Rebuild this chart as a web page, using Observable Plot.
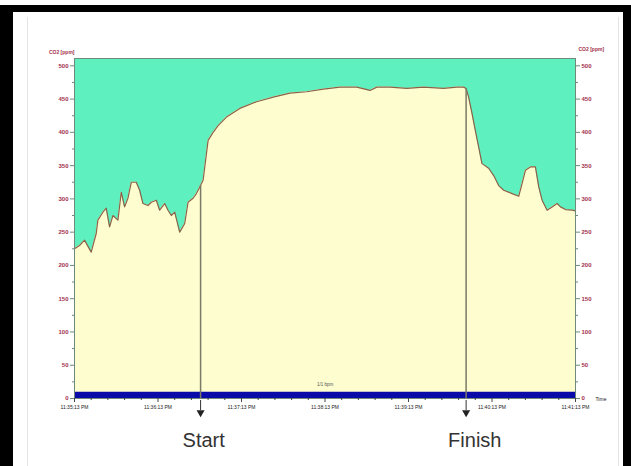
<!DOCTYPE html>
<html>
<head>
<meta charset="utf-8">
<script src="https://cdn.jsdelivr.net/npm/d3@7"></script>
<script src="https://cdn.jsdelivr.net/npm/@observablehq/plot@0.6"></script>
<style>
  html, body { margin: 0; padding: 0; background: #fff; }
  #wrap { position: relative; width: 631px; height: 466px; overflow: hidden; font-family: "Liberation Sans", Arial, sans-serif; }
  #chart { position: absolute; left: 0; top: 0; }
  .bd { position: absolute; background: #000; }
  .fl { position: absolute; background: #e4e4e4; width: 1px; }
</style>
</head>
<body>
<div id="wrap">
  <div id="chart"></div>
  <div class="bd" style="left:0;top:5px;width:631px;height:7px"></div>
  <div class="bd" style="left:0;top:5px;width:13px;height:461px"></div>
  <div class="bd" style="left:623px;top:5px;width:8px;height:461px"></div>
  <div class="fl" style="left:27px;top:17px;height:449px"></div>
  <div class="fl" style="left:618px;top:17px;height:449px"></div>
</div>
<script>
// time in units of x tick intervals (0..6)
const times = [0, 0.06, 0.12, 0.20, 0.26, 0.28, 0.34, 0.38, 0.42, 0.46, 0.52, 0.56, 0.60, 0.64, 0.68, 0.74, 0.78, 0.82, 0.88, 0.92, 0.98, 1.02, 1.08, 1.12, 1.16, 1.20, 1.26, 1.32, 1.36, 1.42, 1.46, 1.50,
  1.54, 1.56, 1.60, 1.66, 1.72, 1.82, 1.98, 2.18, 2.38, 2.58, 2.78, 2.98, 3.18, 3.38, 3.54, 3.62, 3.78, 3.98, 4.18, 4.42, 4.58, 4.66, 4.69,
  4.72, 4.76, 4.80, 4.84, 4.88, 4.96, 5.02, 5.08, 5.14, 5.24, 5.32, 5.36, 5.40, 5.46, 5.52, 5.56, 5.60, 5.66, 5.72, 5.78, 5.82, 5.88, 5.96, 6.0];
const ppm = [225, 230, 238, 220, 248, 268, 280, 286, 258, 275, 268, 310, 288, 301, 325, 325, 313, 293, 290, 295, 298, 283, 293, 283, 275, 280, 250, 263, 295, 301, 308, 318,
  328, 348, 388, 400, 410, 423, 436, 446, 453, 459, 461, 465, 468, 468, 463, 468, 468, 466, 468, 466, 468, 468, 466,
  453, 429, 403, 378, 353, 346, 335, 320, 313, 308, 304, 323, 343, 348, 348, 318, 298, 283, 288, 293, 288, 284, 283, 282];

const baseTimes = [0, 1, 2, 3, 4, 5, 6];
const baseValues = [9.5, 9.5, 9.5, 9.5, 9.5, 9.5, 9.5];

const eventNames = ["Start", "Finish"];
const eventTimes = [1.51, 4.69];
const eventLevels = [320, 466];

const yTicks = [0, 50, 100, 150, 200, 250, 300, 350, 400, 450, 500];
const yMinor = [25, 75, 125, 175, 225, 275, 325, 375, 425, 475];
const xTicks = [0, 1, 2, 3, 4, 5, 6];
const xLabels = ["11:35:13 PM", "11:36:13 PM", "11:37:13 PM", "11:38:13 PM", "11:39:13 PM", "11:40:13 PM", "11:41:13 PM"];
const xMinor = d3.range(0, 6.001, 0.2).filter(v => Math.abs(v - Math.round(v)) > 0.01);

const data = times.map((t, i) => ({t, v: ppm[i]}));
const base = baseTimes.map((t, i) => ({t, v: baseValues[i]}));
const events = eventNames.map((name, i) => ({name, t: eventTimes[i], level: eventLevels[i]}));

const GREEN = "#5ff0bf", CREAM = "#fdfdcf", LINE = "#8b6248", AXIS = "#6f8a7a", MAROON = "#a3304c";

const chart = Plot.plot({
  width: 631,
  height: 466,
  marginLeft: 74,
  marginRight: 56,
  marginTop: 58,
  marginBottom: 68,
  style: {background: "transparent", fontFamily: "Liberation Sans, Arial, sans-serif"},
  x: {domain: [0, 6]},
  y: {domain: [0, 511]},
  marks: [
    Plot.frame({fill: GREEN}),
    Plot.areaY(data, {x: "t", y: "v", fill: CREAM}),
    Plot.lineY(data, {x: "t", y: "v", stroke: LINE, strokeWidth: 1.2}),
    Plot.areaY(base, {x: "t", y: "v", fill: "#0a0aa8"}),
    Plot.ruleX(events, {x: "t", y1: 0, y2: "level", stroke: "#7a7a66", strokeWidth: 1.5}),
    Plot.frame({stroke: AXIS, strokeWidth: 1}),
    Plot.text(["1/1 bpm"], {x: 3, y: 21, text: d => d, fontSize: 4.5, fill: "#555"}),
    Plot.axisY(yTicks, {anchor: "left", tickSize: 4, tickPadding: 2, fontSize: 6, fontWeight: "bold", fill: MAROON, stroke: AXIS, label: null}),
    Plot.axisY(yMinor, {anchor: "left", tickSize: 2, tickFormat: () => "", stroke: AXIS, label: null}),
    Plot.axisY(yTicks, {anchor: "right", tickSize: 4, tickPadding: 2, fontSize: 6, fontWeight: "bold", fill: MAROON, stroke: AXIS, label: null}),
    Plot.axisY(yMinor, {anchor: "right", tickSize: 2, tickFormat: () => "", stroke: AXIS, label: null}),
    Plot.axisX(xTicks, {anchor: "bottom", tickSize: 4, tickPadding: 3, fontSize: 5, fill: "#222", stroke: "#444", tickFormat: i => xLabels[i], label: null}),
    Plot.axisX(xMinor, {anchor: "bottom", tickSize: 2, stroke: "#444", tickFormat: () => "", label: null}),
    Plot.ruleX(events, {x: "t", y1: 0, y2: 0, insetTop: 2, insetBottom: -12, stroke: "#333", strokeWidth: 1}),
    Plot.dot(events, {x: "t", y: 0, dy: 14, symbol: "triangle", rotate: 180, r: 3, fill: "#222", stroke: null}),
    Plot.text(events, {x: "t", y: 0, text: "name", dy: 42, dx: -18, textAnchor: "start", fontSize: 20, fill: "#333"}),
    Plot.text(["CO2 [ppm]"], {frameAnchor: "top-left", text: d => d, textAnchor: "end", dx: 0, dy: -8, fontSize: 5, fill: MAROON, fontWeight: "bold"}),
    Plot.text(["CO2 [ppm]"], {frameAnchor: "top-right", text: d => d, textAnchor: "start", dx: 3, dy: -11, fontSize: 5, fill: MAROON, fontWeight: "bold"}),
    Plot.text(["Time"], {frameAnchor: "bottom-right", text: d => d, textAnchor: "start", dx: 20, dy: 2, fontSize: 5, fill: "#222"})
  ]
});
document.getElementById("chart").appendChild(chart);
</script>
</body>
</html>
